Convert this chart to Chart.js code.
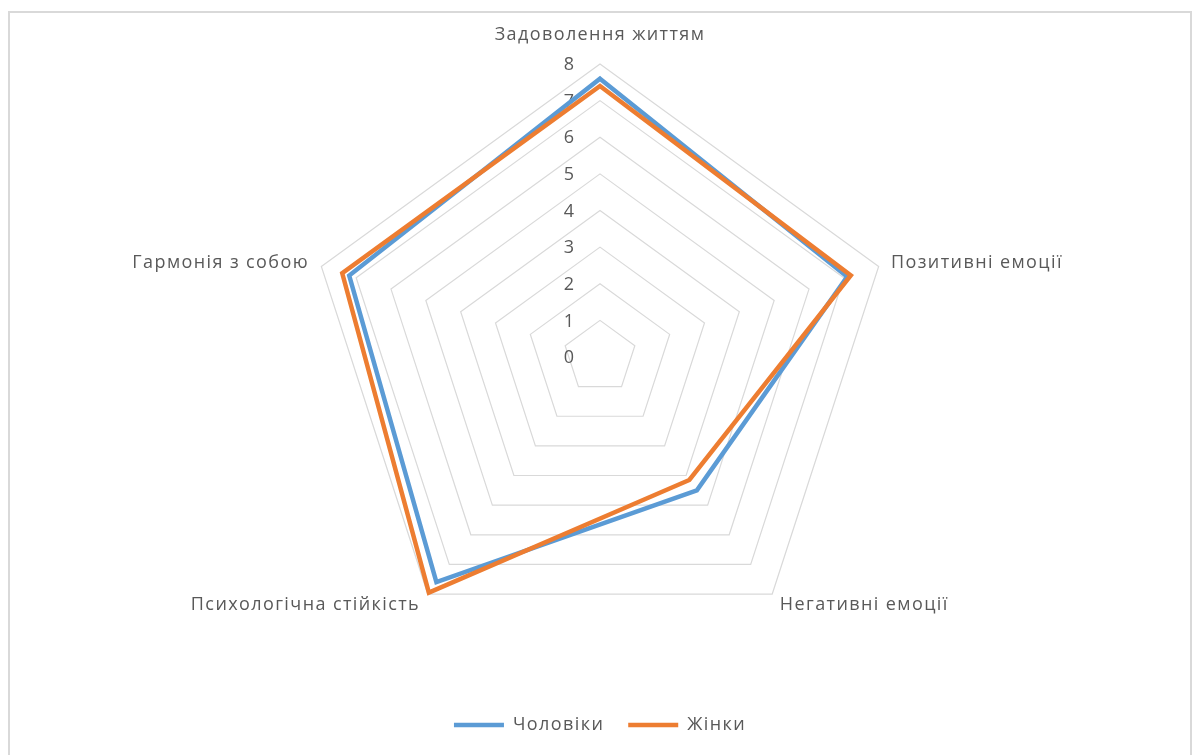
<!DOCTYPE html>
<html lang="uk">
<head>
<meta charset="utf-8">
<title>Радарна діаграма</title>
<script src="https://cdn.jsdelivr.net/npm/chart.js@4.4.1/dist/chart.umd.min.js"></script>
<style>
  html, body { margin: 0; padding: 0; background: #fff; }
  #wrap { position: relative; width: 1197px; height: 755px; overflow: hidden; }
  #frame { position: absolute; left: 8px; top: 11px; width: 1180px; height: 800px;
           border: 2px solid #d9d9d9; pointer-events: none; }
  #radar { position: absolute; left: 0; top: 0; }
</style>
</head>
<body>
<div id="wrap">
  <div id="frame"></div>
  <canvas id="radar" width="1197" height="755"></canvas>
</div>
<script>
'use strict';

// --- data ---
const categories  = ['Задоволення життям', 'Позитивні емоції', 'Негативні емоції', 'Психологічна стійкість', 'Гармонія з собою'];
const seriesNames = ['Чоловіки', 'Жінки'];
const menValues   = [7.6, 7.1, 4.5, 7.6, 7.2];
const womenValues = [7.4, 7.2, 4.15, 7.95, 7.4];
const scaleMin = 0;
const scaleMax = 8;
const scaleStep = 1;

const FONT    = "'Open Sans', sans-serif";
const SPACING = '1.4px';   // the Office text runs a little wider than Open Sans
const TEXT    = '#595959';
const BLUE    = '#5b9bd5';
const ORANGE  = '#ed7d31';

// tick numbers sit left of the top spoke, point labels hug the outer ring
const excelLabels = {
  id: 'excelLabels',
  beforeLayout(chart) {
    chart.ctx.letterSpacing = SPACING;
  },
  beforeDraw(chart) {
    chart.ctx.letterSpacing = SPACING;
  },
  beforeDatasetsDraw(chart) {
    const s = chart.scales.r;
    const ctx = chart.ctx;
    ctx.save();
    ctx.font = `18px ${FONT}`;
    ctx.letterSpacing = '0px';
    ctx.fillStyle = TEXT;
    ctx.textAlign = 'center';
    ctx.textBaseline = 'middle';
    s.ticks.forEach(t => {
      const d = s.getDistanceFromCenterForValue(t.value);
      ctx.fillText(t.label, s.xCenter - 31, s.yCenter - d + 1);
    });
    ctx.restore();
  },
  afterDraw(chart) {
    const s = chart.scales.r;
    const ctx = chart.ctx;
    ctx.save();
    ctx.font = `18px ${FONT}`;
    ctx.letterSpacing = SPACING;
    ctx.fillStyle = TEXT;
    ctx.textBaseline = 'middle';
    categories.forEach((c, i) => {
      const p = s.getPointPosition(i, s.drawingArea + 13);
      let align = 'center', dy = 0;
      if (p.x > s.xCenter + 1) align = 'left';
      else if (p.x < s.xCenter - 1) align = 'right';
      else dy = -16;
      ctx.textAlign = align;
      ctx.fillText(c, p.x, p.y + dy);
    });
    ctx.restore();
  }
};

new Chart(document.getElementById('radar'), {
  type: 'radar',
  data: {
    labels: categories,
    datasets: [
      {
        label: seriesNames[0],
        data: menValues,
        borderColor: BLUE,
        backgroundColor: BLUE,
        borderWidth: 4.5,
        borderJoinStyle: 'miter',
        borderCapStyle: 'round',
        pointRadius: 0,
        fill: false,
        order: 1,
      },
      {
        label: seriesNames[1],
        data: womenValues,
        borderColor: ORANGE,
        backgroundColor: ORANGE,
        borderWidth: 4.5,
        borderJoinStyle: 'miter',
        borderCapStyle: 'round',
        pointRadius: 0,
        fill: false,
        order: 0,          // orange drawn over blue, as in the original
      },
    ]
  },
  options: {
    responsive: false,
    animation: false,
    layout: { padding: { top: 64, bottom: 11, left: 3, right: 0 } },
    plugins: {
      tooltip: { enabled: false },
      legend: {
        position: 'bottom',
        title: { display: true, text: '', font: { size: 10 }, padding: { top: 29, bottom: 0 } },
        labels: {
          font: { size: 18, family: FONT },
          color: TEXT,
          usePointStyle: true,
          pointStyle: 'line',
          pointStyleWidth: 50,
          padding: 24,
          sort: (a, b) => a.datasetIndex - b.datasetIndex,
        }
      }
    },
    scales: {
      r: {
        min: scaleMin,
        max: scaleMax,
        ticks: { stepSize: scaleStep, display: false },
        grid: { color: '#d9d9d9', lineWidth: 1.2 },
        angleLines: { display: false },
        pointLabels: { display: false },
      }
    }
  },
  plugins: [excelLabels]
});
</script>
</body>
</html>
